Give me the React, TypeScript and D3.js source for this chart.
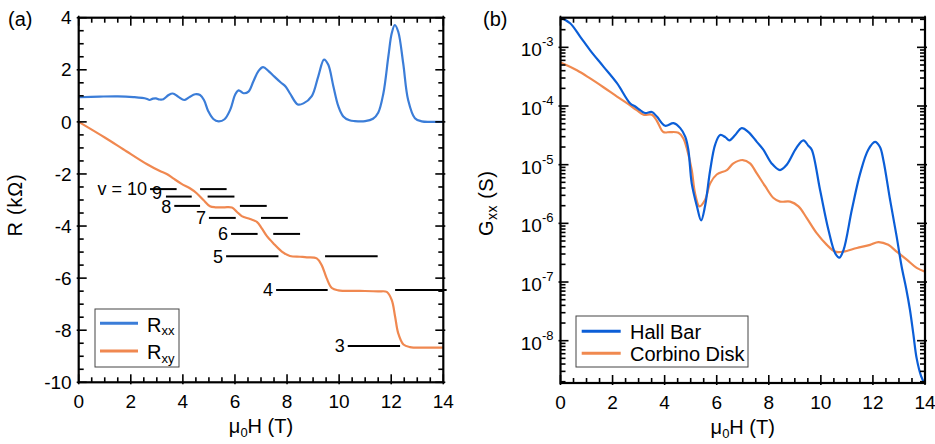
import React from 'react';
import * as d3 from 'd3';

// ---------- data ----------
const fieldTicks = [0, 2, 4, 6, 8, 10, 12, 14];
const rTicks = [-10, -8, -6, -4, -2, 0, 2, 4];
const gTicks = [1e-3, 1e-4, 1e-5, 1e-6, 1e-7, 1e-8];
const gTickExp = ['-3', '-4', '-5', '-6', '-7', '-8'];

// Rxx (T, kOhm)
const rxxPoints: [number, number][] = [
  [0, 0.945], [0.8, 0.97], [1.5, 0.98], [2.1, 0.95], [2.6, 0.89], [2.72, 0.84], [2.85, 0.89], [2.97, 0.9],
  [3.1, 0.86], [3.25, 0.87], [3.45, 1.03], [3.61, 1.09], [3.83, 0.96], [4.05, 0.84], [4.25, 0.95],
  [4.47, 1.06], [4.66, 1.03], [4.81, 0.84], [4.98, 0.4], [5.17, 0.11], [5.37, 0.02], [5.6, 0.1],
  [5.82, 0.47], [6.01, 1.05], [6.14, 1.21], [6.33, 1.1], [6.52, 1.16], [6.71, 1.56], [6.9, 1.95],
  [7.08, 2.1], [7.29, 1.95], [7.5, 1.75], [7.75, 1.52], [7.95, 1.35], [8.12, 1.08], [8.41, 0.67],
  [8.63, 0.71], [8.95, 0.99], [9.2, 1.75], [9.42, 2.39], [9.58, 2.2], [9.78, 1.36], [9.97, 0.6],
  [10.16, 0.21], [10.4, 0.06], [10.6, 0.03], [11.0, 0.03], [11.3, 0.12], [11.5, 0.35], [11.7, 1.1],
  [11.89, 2.51], [12.02, 3.4], [12.14, 3.72], [12.27, 3.46], [12.46, 2.25], [12.65, 0.84],
  [12.91, 0.14], [13.17, 0.02], [13.5, 0], [14, 0],
];

// Rxy (T, kOhm)
const rxyPoints: [number, number][] = [
  [0, 0], [1.0, -0.6], [1.71, -1.05], [2.61, -1.62], [3.1, -1.88], [3.38, -2.0], [3.63, -2.17],
  [3.95, -2.38], [4.27, -2.55], [4.53, -2.74], [4.79, -3.0], [5.04, -3.24], [5.25, -3.28],
  [5.6, -3.28], [5.88, -3.29], [6.07, -3.45], [6.26, -3.62], [6.58, -3.73], [6.84, -3.84],
  [7.03, -4.09], [7.22, -4.38], [7.47, -4.66], [7.8, -4.98], [8.11, -5.15], [8.5, -5.18],
  [8.76, -5.2], [9.14, -5.24], [9.33, -5.5], [9.52, -6.0], [9.72, -6.38], [9.97, -6.47],
  [10.8, -6.49], [11.5, -6.51], [11.83, -6.53], [12.02, -6.84], [12.15, -7.48], [12.27, -8.12],
  [12.47, -8.55], [12.72, -8.65], [13.3, -8.67], [14, -8.67],
];

// Quantized Hall plateaus h/(nu e^2), kOhm
const nuValues = [10, 9, 8, 7, 6, 5, 4, 3];
const nuLabels = ['v = 10', '9', '8', '7', '6', '5', '4', '3'];
const plateauSeg1: [number, number][] = [
  [2.74, 3.76], [3.35, 4.34], [3.67, 4.66], [5.0, 6.03], [5.85, 6.87], [5.66, 7.67], [7.58, 9.56], [10.33, 12.34],
];
const plateauSeg2: ([number, number] | null)[] = [
  [4.66, 5.68], [4.95, 5.98], [6.19, 7.22], [7.0, 8.03], [7.47, 8.5], [9.46, 11.48], [12.15, 14.13], null,
];

// Gxx (T, S)
const hallBarPoints: [number, number][] = [
  [0, 3.24e-3], [0.37, 2.57e-3], [0.76, 1.51e-3], [1.14, 8.9e-4], [1.65, 4.7e-4], [2.17, 2.45e-4],
  [2.68, 1.1e-4], [2.87, 9.8e-5], [3.06, 8.5e-5], [3.25, 7.6e-5], [3.51, 7.9e-5], [3.7, 6.6e-5],
  [4.02, 4.6e-5], [4.34, 5.1e-5], [4.6, 4.2e-5], [4.79, 3.0e-5], [4.91, 1.8e-5], [5.04, 4.8e-6],
  [5.24, 1.95e-6], [5.4, 1.12e-6], [5.55, 1.95e-6], [5.75, 8.1e-6], [5.94, 2.2e-5], [6.13, 3.2e-5],
  [6.33, 2.95e-5], [6.49, 2.6e-5], [6.71, 3.2e-5], [6.96, 4.2e-5], [7.22, 3.6e-5], [7.54, 2.45e-5],
  [7.79, 1.8e-5], [8.11, 1.05e-5], [8.43, 8.1e-6], [8.69, 1.0e-5], [9.05, 1.9e-5], [9.33, 2.6e-5],
  [9.52, 2.1e-5], [9.65, 1.8e-5], [9.97, 3.7e-6], [10.29, 7.8e-7], [10.55, 3.1e-7], [10.71, 2.6e-7],
  [10.87, 3.5e-7], [11.19, 1.7e-6], [11.51, 7.1e-6], [11.82, 1.8e-5], [12.08, 2.45e-5], [12.27, 2.0e-5],
  [12.4, 1.2e-5], [12.66, 2.5e-6], [12.91, 6.0e-7], [13.1, 1.86e-7], [13.28, 7.6e-8], [13.42, 3.4e-8],
  [13.55, 1.32e-8], [13.68, 5.0e-9], [13.85, 2.5e-9], [14, 1.8e-9],
];
const corbinoPoints: [number, number][] = [
  [0, 5.5e-4], [0.63, 4.07e-4], [1.14, 2.95e-4], [1.65, 2.09e-4], [2.17, 1.45e-4], [2.55, 1.12e-4],
  [2.93, 8.5e-5], [3.19, 7.1e-5], [3.51, 7.1e-5], [3.7, 5.6e-5], [3.95, 3.6e-5], [4.21, 3.6e-5],
  [4.53, 3.5e-5], [4.72, 2.8e-5], [4.85, 1.9e-5], [5.04, 8.1e-6], [5.17, 3.2e-6], [5.34, 1.95e-6],
  [5.55, 2.5e-6], [5.75, 4.8e-6], [6.0, 6.8e-6], [6.39, 8.1e-6], [6.64, 1.05e-5], [7.0, 1.2e-5],
  [7.28, 1.05e-5], [7.54, 7.1e-6], [7.86, 4.3e-6], [8.18, 2.7e-6], [8.43, 2.35e-6], [8.82, 2.35e-6],
  [9.14, 1.95e-6], [9.46, 1.23e-6], [9.84, 6.8e-7], [10.23, 4.3e-7], [10.55, 3.3e-7], [10.87, 3.3e-7],
  [11.38, 3.8e-7], [11.89, 4.3e-7], [12.21, 4.8e-7], [12.59, 4.3e-7], [12.91, 3.3e-7], [13.3, 2.4e-7],
  [13.68, 1.74e-7], [14, 1.5e-7],
];

// ---------- layout ----------
const W = 935, H = 444;
const A = { left: 78.7, right: 443.3, top: 17.7, bottom: 382.3 };
const B = { left: 560.5, right: 925, top: 17.7, bottom: 383 };
const FONT = '"Liberation Sans", Arial, Helvetica, sans-serif';
const FS = 19;
const FT = 20;
const FL = 18;
const C_RXX = '#3b7dd8';
const C_RXY = '#f08850';
const C_HALL = '#0b5ed7';
const C_CORB = '#f0894f';
// small label nudges (px) to keep the crowded plateau labels apart
const labelNudge: Record<string, [number, number]> = { '9': [-1, -3.5], '8': [0, 1] };

const xA = d3.scaleLinear().domain([0, 14]).range([A.left, A.right]);
const yA = d3.scaleLinear().domain([-10, 4]).range([A.bottom, A.top]);
const xB = d3.scaleLinear().domain([0, 14]).range([B.left, B.right]);
const yB = d3.scaleLog().domain([1.9e-9, 3.2e-3]).range([B.bottom, B.top]);

const xMinor = d3.range(0, 14.001, 0.5).filter((v) => !fieldTicks.includes(v));
const rMinor = d3.range(-10, 4.001, 0.5).filter((v) => !rTicks.includes(v));
const gMinor: number[] = [];
for (let e = -9; e <= -3; e++) for (let k = 2; k <= 9; k++) {
  const v = k * Math.pow(10, e);
  if (v > 1.9e-9 && v < 3.2e-3) gMinor.push(v);
}

const MAJ_IN = 8, MAJ_OUT = 2, MIN_IN = 5;

function Frame({ box, x, y, yMajor, yMinor }: any) {
  const els: any[] = [];
  fieldTicks.forEach((v, i) => {
    const px = x(v);
    els.push(<line key={'xb' + i} x1={px} x2={px} y1={box.bottom + MAJ_OUT} y2={box.bottom - MAJ_IN} />);
    els.push(<line key={'xt' + i} x1={px} x2={px} y1={box.top - MAJ_OUT} y2={box.top + MAJ_IN} />);
  });
  xMinor.forEach((v, i) => {
    const px = x(v);
    els.push(<line key={'xmb' + i} x1={px} x2={px} y1={box.bottom} y2={box.bottom - MIN_IN} />);
    els.push(<line key={'xmt' + i} x1={px} x2={px} y1={box.top} y2={box.top + MIN_IN} />);
  });
  yMajor.forEach((v: number, i: number) => {
    const py = y(v);
    els.push(<line key={'yl' + i} x1={box.left - MAJ_OUT} x2={box.left + MAJ_IN} y1={py} y2={py} />);
    els.push(<line key={'yr' + i} x1={box.right + MAJ_OUT} x2={box.right - MAJ_IN} y1={py} y2={py} />);
  });
  yMinor.forEach((v: number, i: number) => {
    const py = y(v);
    els.push(<line key={'yml' + i} x1={box.left} x2={box.left + MIN_IN} y1={py} y2={py} />);
    els.push(<line key={'ymr' + i} x1={box.right} x2={box.right - MIN_IN} y1={py} y2={py} />);
  });
  return (
    <g stroke="#000" strokeWidth={1.6}>
      {els}
      <rect x={box.left} y={box.top} width={box.right - box.left} height={box.bottom - box.top} fill="none" strokeWidth={2.2} />
    </g>
  );
}

function XLabels({ box, x }: any) {
  return (
    <g fontFamily={FONT} textAnchor="middle" fill="#000">
      {fieldTicks.map((v, i) => (
        <text key={i} x={x(v)} y={box.bottom + 26} fontSize={FS}>{v}</text>
      ))}
      <text x={(box.left + box.right) / 2} y={box.bottom + 51} fontSize={FT}>
        μ<tspan fontSize={13} dy={4}>0</tspan><tspan dy={-4}>H (T)</tspan>
      </text>
    </g>
  );
}

export default function App() {
  const lineA = d3.line<[number, number]>().x((d) => xA(d[0])).y((d) => yA(d[1])).curve(d3.curveCatmullRom.alpha(0.5));
  const lineB = d3.line<[number, number]>().x((d) => xB(d[0])).y((d) => yB(d[1])).curve(d3.curveCatmullRom.alpha(0.5));

  return (
    <svg width={W} height={H} style={{ position: 'absolute', left: 0, top: 0, background: '#fff' }}>
      <defs>
        <clipPath id="clipA"><rect x={A.left} y={A.top} width={A.right - A.left} height={A.bottom - A.top} /></clipPath>
        <clipPath id="clipB"><rect x={B.left} y={B.top} width={B.right - B.left} height={B.bottom - B.top} /></clipPath>
      </defs>
      <rect width={W} height={H} fill="#fff" />

      {/* ---------- panel (a) ---------- */}
      <text x={8} y={26} fontFamily={FONT} fontSize={FT}>(a)</text>
      <g stroke="#000" strokeWidth={2}>
        {nuValues.map((nu, i) => {
          const r = -25.813 / nu;
          const s1 = plateauSeg1[i];
          const s2 = plateauSeg2[i];
          return (
            <g key={i}>
              <line x1={xA(s1[0])} x2={xA(s1[1])} y1={yA(r)} y2={yA(r)} />
              {s2 && <line x1={xA(s2[0])} x2={xA(s2[1])} y1={yA(r)} y2={yA(r)} />}
            </g>
          );
        })}
      </g>
      <g fontFamily={FONT} fontSize={FL} fill="#000" textAnchor="end">
        {nuValues.map((nu, i) => {
          const n = labelNudge[nuLabels[i]] || [0, 0];
          return (
            <text key={i} x={xA(plateauSeg1[i][0]) - 3 + n[0]} y={yA(-25.813 / nu) + n[1]} dy="0.35em">{nuLabels[i]}</text>
          );
        })}
      </g>
      <g clipPath="url(#clipA)" fill="none" strokeWidth={2.2} strokeLinejoin="round">
        <path d={lineA(rxxPoints) || ''} stroke={C_RXX} />
        <path d={lineA(rxyPoints) || ''} stroke={C_RXY} />
      </g>
      <Frame box={A} x={xA} y={yA} yMajor={rTicks} yMinor={rMinor} />
      <g fontFamily={FONT} fontSize={FS} textAnchor="end" fill="#000">
        {rTicks.map((v, i) => (
          <text key={i} x={A.left - 7} y={yA(v)} dy="0.35em">{v}</text>
        ))}
      </g>
      <XLabels box={A} x={xA} />
      <text transform={`translate(22,${(A.top + A.bottom) / 2 + 5}) rotate(-90)`} textAnchor="middle" fontFamily={FONT} fontSize={FT} letterSpacing={0.8}>R (kΩ)</text>

      {/* legend (a) */}
      <g>
        <rect x={95} y={309} width={84} height={58} fill="#fff" stroke="#444" strokeWidth={1} />
        <line x1={100} x2={138} y1={323.3} y2={323.3} stroke={C_RXX} strokeWidth={3} />
        <line x1={100} x2={138} y1={351} y2={351} stroke={C_RXY} strokeWidth={3} />
        <text x={147} y={331.5} fontFamily={FONT} fontSize={FT}>R<tspan fontSize={13} dy={3.5}>xx</tspan></text>
        <text x={147} y={359} fontFamily={FONT} fontSize={FT}>R<tspan fontSize={13} dy={3.5}>xy</tspan></text>
      </g>

      {/* ---------- panel (b) ---------- */}
      <text x={483} y={26} fontFamily={FONT} fontSize={FT}>(b)</text>
      <g clipPath="url(#clipB)" fill="none" strokeWidth={2.2} strokeLinejoin="round">
        <path d={lineB(corbinoPoints) || ''} stroke={C_CORB} />
        <path d={lineB(hallBarPoints) || ''} stroke={C_HALL} />
      </g>
      <Frame box={B} x={xB} y={yB} yMajor={gTicks} yMinor={gMinor} />
      <g fontFamily={FONT} fontSize={FS} textAnchor="end" fill="#000">
        {gTicks.map((v, i) => (
          <text key={i} x={B.left - 7} y={yB(v) + 9}>10<tspan fontSize={13} dy={-10}>{gTickExp[i]}</tspan></text>
        ))}
      </g>
      <XLabels box={B} x={xB} />
      <text transform={`translate(493,${(B.top + B.bottom) / 2 + 3}) rotate(-90)`} textAnchor="middle" fontFamily={FONT} fontSize={FT} letterSpacing={0.5}>
        G<tspan fontSize={14} dy={4}>xx</tspan><tspan dy={-4}> (S)</tspan>
      </text>

      {/* legend (b) */}
      <g>
        <rect x={576} y={316} width={172} height={51} fill="#fff" stroke="#444" strokeWidth={1} />
        <line x1={581.7} x2={620.7} y1={331.3} y2={331.3} stroke={C_HALL} strokeWidth={3} />
        <line x1={581.7} x2={620.7} y1={353.3} y2={353.3} stroke={C_CORB} strokeWidth={3} />
        <text x={630} y={338.5} fontFamily={FONT} fontSize={FT}>Hall Bar</text>
        <text x={630} y={360.5} fontFamily={FONT} fontSize={FT}>Corbino Disk</text>
      </g>
    </svg>
  );
}
